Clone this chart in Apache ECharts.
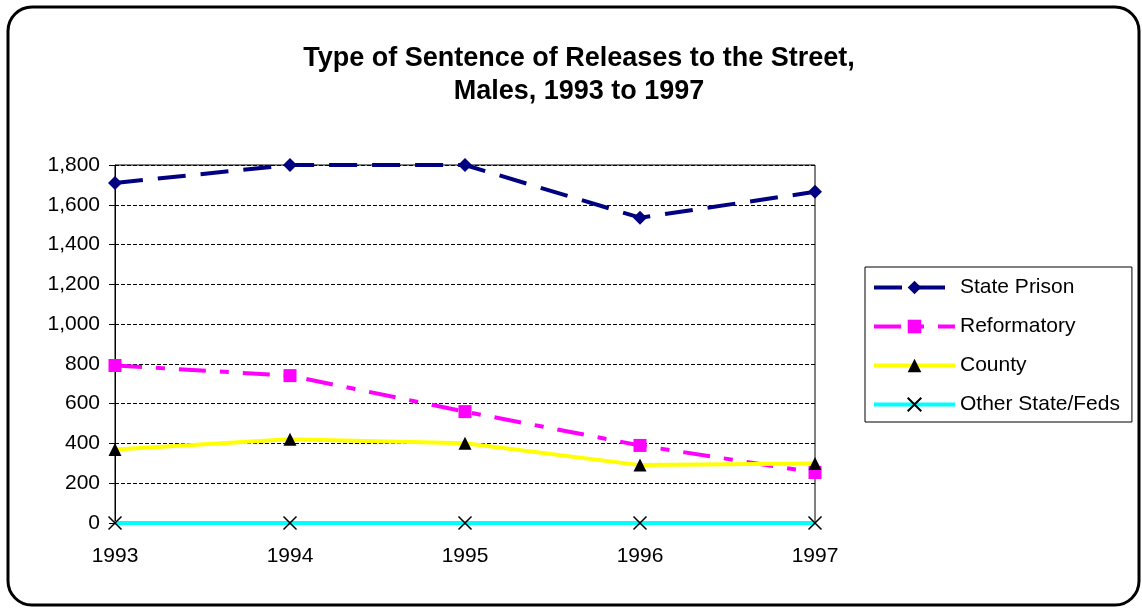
<!DOCTYPE html>
<html>
<head>
<meta charset="utf-8">
<script src="https://cdn.jsdelivr.net/npm/echarts@6/dist/echarts.min.js"></script>
<style>
    html, body {margin:0; padding:0; background:#fff;}
    #chart {width:1142px; height:609px;}
</style>
</head>
<body>
<div id="chart"></div>
<script>
var years = ['1993', '1994', '1995', '1996', '1997'];
var statePrison = [1710, 1800, 1800, 1535, 1665];
var reformatory = [792, 741, 560, 390, 254];
var county = [370, 421, 401, 291, 299];
var otherState = [0, 0, 0, 0, 0];
var yTicks = {min: 0, max: 1800, step: 200};

var font = 'Liberation Sans, Arial, sans-serif';
// X marker drawn as two strokes
var crossPath = 'path://M0,0L10,10M10,0L0,10';

var chart = echarts.init(document.getElementById('chart'));
var option = {
    backgroundColor: '#fff',
    animation: false,
    title: {
        text: 'Type of Sentence of Releases to the Street,\nMales, 1993 to 1997',
        left: 574,
        textAlign: 'center',
        top: 37,
        textStyle: {
            fontFamily: font,
            fontSize: 27,
            fontWeight: 'bold',
            color: '#000',
            lineHeight: 33
        }
    },
    legend: {
        orient: 'vertical',
        left: 865,
        top: 267,
        padding: [10, 12, 7, 7],
        itemWidth: 81,
        itemHeight: 17,
        itemGap: 18,
        borderColor: '#000',
        borderWidth: 1,
        lineStyle: {width: 4},
        textStyle: {fontFamily: font, fontSize: 21, color: '#000'},
        data: ['State Prison', 'Reformatory', 'County', 'Other State/Feds']
    },
    grid: {
        left: 115,
        right: 327,
        top: 165,
        bottom: 86,
        show: true,
        borderColor: '#000',
        borderWidth: 1
    },
    xAxis: {
        type: 'category',
        data: years,
        boundaryGap: false,
        axisLine: {lineStyle: {color: '#000', width: 1}},
        axisTick: {show: false},
        axisLabel: {fontFamily: font, fontSize: 21, color: '#000', margin: 23}
    },
    yAxis: {
        type: 'value',
        min: yTicks.min,
        max: yTicks.max,
        interval: yTicks.step,
        axisLine: {show: true, lineStyle: {color: '#000', width: 1}},
        axisTick: {show: true, length: 6, lineStyle: {color: '#000'}},
        axisLabel: {
            fontFamily: font, fontSize: 21, color: '#000', margin: 15,
            formatter: function (v) { return v.toLocaleString('en-US'); }
        },
        splitLine: {lineStyle: {color: '#000', width: 1, type: [4, 2]}}
    },
    series: [
        {
            name: 'State Prison',
            type: 'line',
            data: statePrison,
            symbol: 'diamond',
            symbolSize: 14,
            lineStyle: {color: '#000080', width: 4, type: [28, 15]},
            itemStyle: {color: '#000080'}
        },
        {
            name: 'Reformatory',
            type: 'line',
            data: reformatory,
            symbol: 'rect',
            symbolSize: 13,
            lineStyle: {color: '#ff00ff', width: 4, type: [27, 14, 9, 14]},
            itemStyle: {color: '#ff00ff'}
        },
        {
            name: 'County',
            type: 'line',
            data: county,
            symbol: 'triangle',
            symbolSize: 13,
            lineStyle: {color: '#ffff00', width: 4},
            itemStyle: {color: '#000'}
        },
        {
            name: 'Other State/Feds',
            type: 'line',
            data: otherState,
            symbol: crossPath,
            symbolSize: 13,
            lineStyle: {color: '#00ffff', width: 4},
            itemStyle: {color: '#000', borderColor: '#000', borderWidth: 1.5}
        }
    ],
    graphic: [{
        type: 'rect',
        shape: {x: 8, y: 7, width: 1131, height: 598, r: 24},
        style: {fill: 'none', stroke: '#000', lineWidth: 3},
        silent: true
    }]
};
chart.setOption(option);
window.addEventListener('resize', chart.resize);
</script>
</body>
</html>
